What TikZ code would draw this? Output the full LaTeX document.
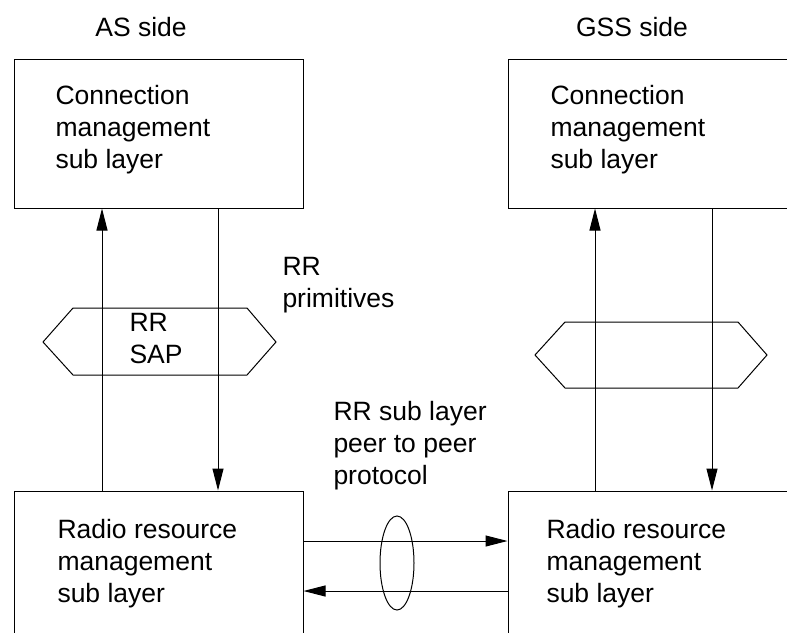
\documentclass[tikz,border=0pt]{standalone}
\usepackage{fontspec}
\setmainfont{Liberation Sans}
\usetikzlibrary{arrows.meta,shapes.geometric}
\begin{document}
\begin{tikzpicture}[x=1pt,y=-1pt,
  line width=1pt,
  txt/.style={font=\fontsize{26.5}{32}\selectfont, align=left, inner sep=0pt, anchor=west},
  layerbox/.style={draw, minimum width=289pt, minimum height=149pt, inner sep=0pt},
  arr/.style={-{Triangle[length=22pt,width=11pt]}},
  sap/.style={draw}
]
\useasboundingbox (0,0) rectangle (787,632);
\clip (0,0) rectangle (787,632);
% boxes
\node[layerbox] (lt) at (158.5,133.5) {};
\node[layerbox] (rt) at (652.5,133.5) {};
\node[layerbox] (lb) at (158.5,565.5) {};
\node[layerbox] (rb) at (652.5,565.5) {};
% headers
\node[txt, anchor=center] (as) at (141,27) {AS side};
\node[txt, anchor=center] (gss) at (632,27) {GSS side};
% box texts
\node[txt] (ltt) at (55,130) {Connection\\management\\sub layer};
\node[txt] (rtt) at (550,130) {Connection\\management\\sub layer};
\node[txt] (lbt) at (57,564) {Radio resource\\management\\sub layer};
\node[txt] (rbt) at (546,564) {Radio resource\\management\\sub layer};
% SAP hexagons
\draw[sap] (43,342) -- (73,308) -- (247,308) -- (276,342) -- (247,375) -- (73,375) -- cycle;
\draw[sap] (535,355) -- (565,322) -- (738,322) -- (767,355) -- (738,388) -- (565,388) -- cycle;
\node[txt] (sapt) at (129,339) {RR\\SAP};
% labels
\node[txt] (prim) at (282,285) {RR\\primitives};
\node[txt] (peer) at (333,446) {RR sub layer\\peer to peer\\protocol};
% vertical connectors
\coordinate (xa) at (102,0);
\coordinate (xb) at (218,0);
\coordinate (xc) at (595,0);
\coordinate (xd) at (712,0);
\draw[arr] (xa |- lb.north) -- (xa |- lt.south);
\draw[arr] (xb |- lt.south) -- (xb |- lb.north);
\draw[arr] (xc |- rb.north) -- (xc |- rt.south);
\draw[arr] (xd |- rt.south) -- (xd |- rb.north);
% horizontal connectors
\coordinate (ya) at (0,541);
\coordinate (yb) at (0,591);
\draw[arr] (lb.east |- ya) -- (rb.west |- ya);
\draw[arr] (rb.west |- yb) -- (lb.east |- yb);
% ellipse
\node[draw, ellipse, minimum width=34pt, minimum height=94pt, inner sep=0pt] (el) at (397,563) {};
\end{tikzpicture}
\end{document}
